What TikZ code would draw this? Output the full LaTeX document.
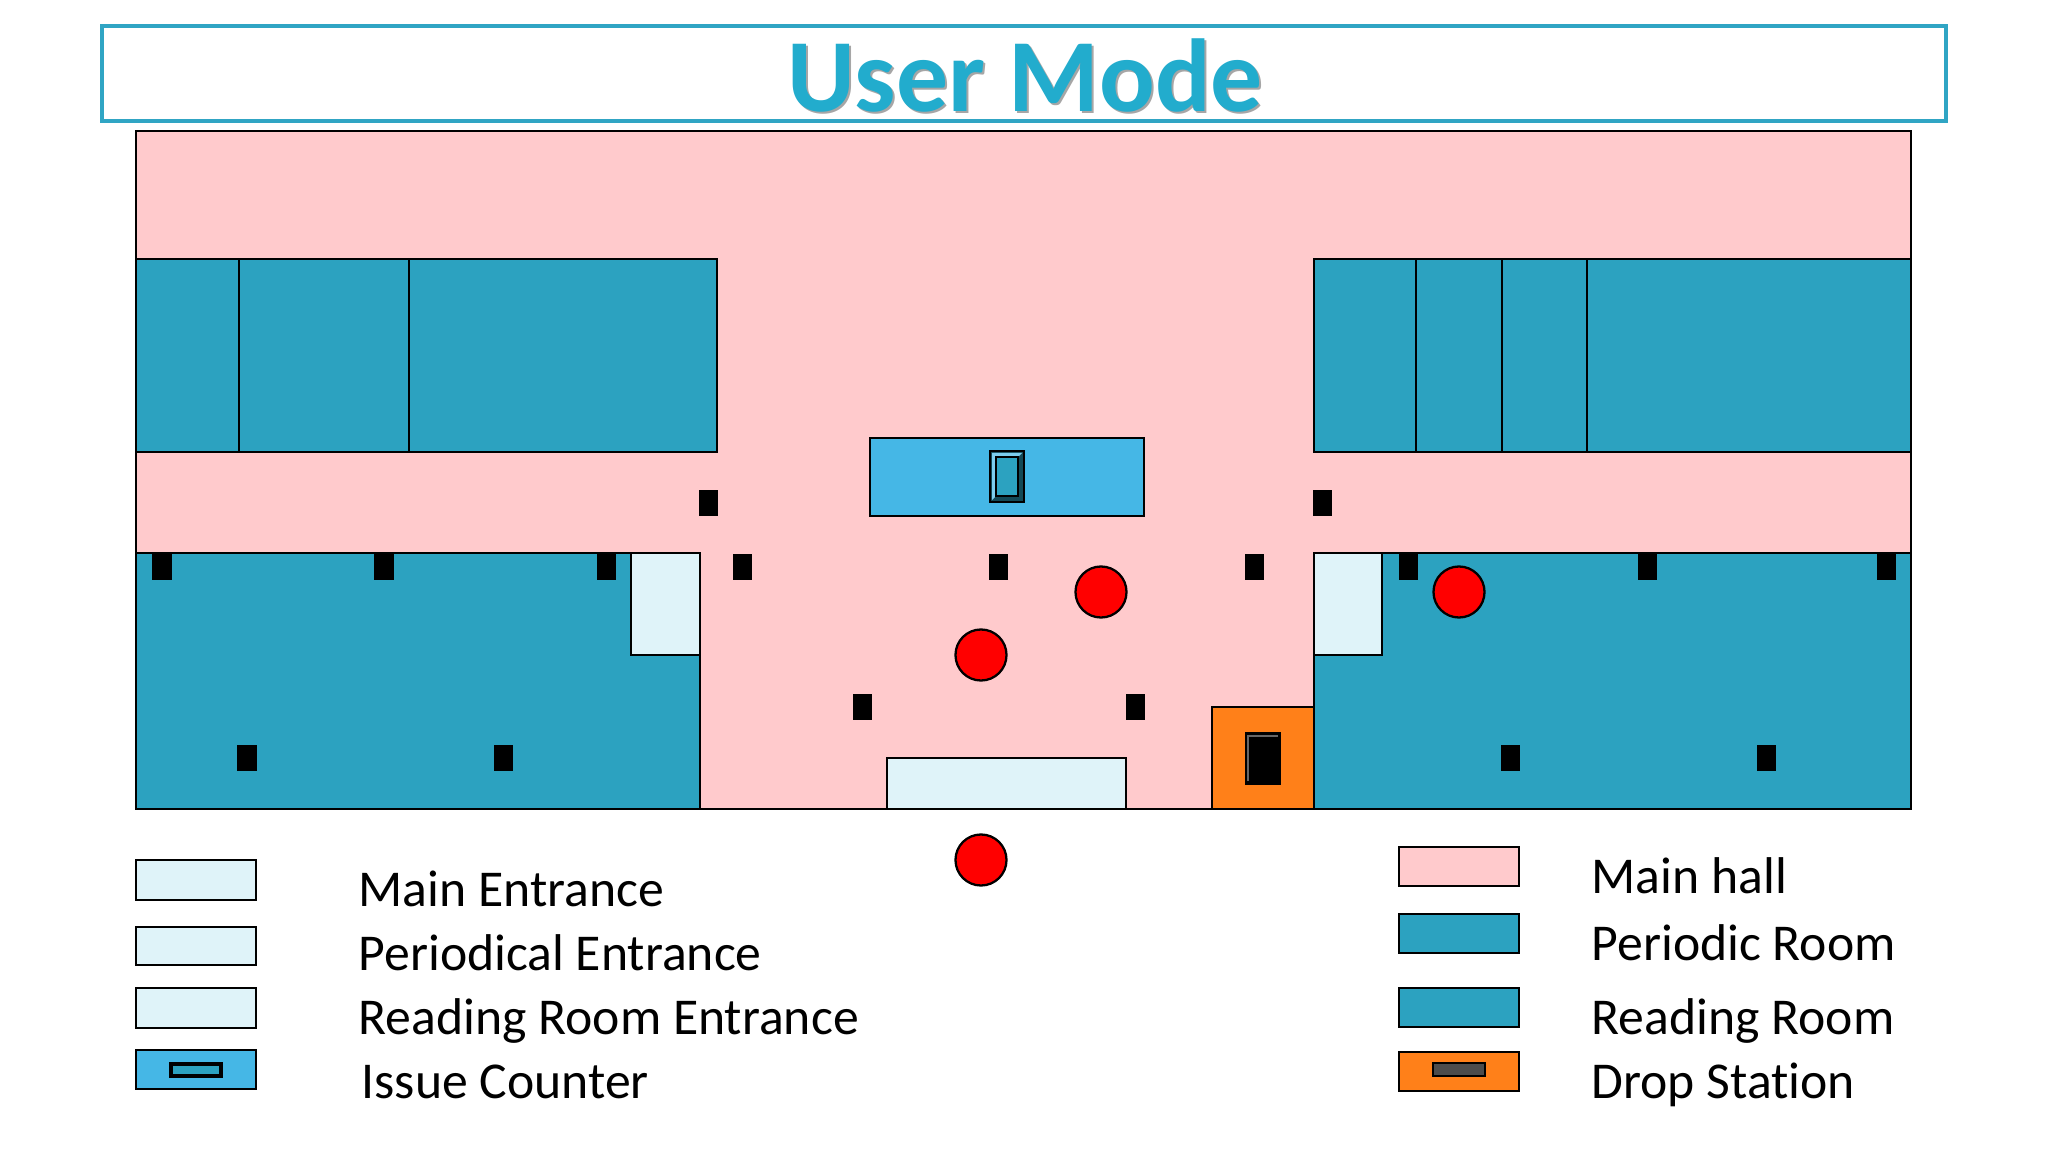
\documentclass[tikz,border=0pt]{standalone}
\usepackage{fontspec}
\setmainfont{Carlito}[Ligatures=NoCommon]

\definecolor{hallpink}{HTML}{FFCACC}
\definecolor{roomteal}{HTML}{2CA2C0}
\definecolor{entrancepale}{HTML}{DFF3F9}
\definecolor{counterblue}{HTML}{45B7E6}
\definecolor{droporange}{HTML}{FF8019}
\definecolor{titleteal}{HTML}{22ACCD}
\definecolor{titleline}{HTML}{30A5C4}

\tikzset{
    wall/.style={draw=black, line width=0.65pt},
    pillar/.style={fill=black, inner sep=0, minimum width=0.19cm, minimum height=0.26cm},
    visitor/.style={circle, draw=black, fill=red, line width=0.65pt, inner sep=0, minimum size=0.51cm},
    legendtext/.style={anchor=base west, inner sep=0, font=\fontsize{14.7pt}{17pt}\selectfont},
    titletext/.style={inner sep=0, font=\fontsize{29.5pt}{32pt}\selectfont\bfseries}
}

\begin{document}
\begin{tikzpicture}[x=0.01cm, y=-0.01cm]
    \useasboundingbox (0,-1) rectangle (2048,1151);

    % Title
    \draw[titleline, line width=1.1pt] (102,25) rectangle (1946,120);
    \node[titletext, text=black!35] (titleshadow) at (1027,76) {User Mode};
    \node[titletext, text=titleteal] (title) at (1025,74) {User Mode};

    % Main hall
    \draw[wall, fill=hallpink] (136,130) rectangle (1911,808);

    % Periodic rooms
    \draw[wall, fill=roomteal] (136,258) rectangle (717,451);
    \draw[wall] (239,258) -- (239,451);
    \draw[wall] (409,258) -- (409,451);
    \draw[wall, fill=roomteal] (1314,258) rectangle (1911,451);
    \draw[wall] (1416,258) -- (1416,451);
    \draw[wall] (1502,258) -- (1502,451);
    \draw[wall] (1587,258) -- (1587,451);

    % Reading rooms
    \draw[wall, fill=roomteal] (136,552) rectangle (700,808);
    \draw[wall, fill=roomteal] (1314,552) rectangle (1911,808);
    \draw[wall, fill=entrancepale] (631,552) rectangle (700,654);
    \draw[wall, fill=entrancepale] (1314,552) rectangle (1382,654);

    % Main entrance
    \draw[wall, fill=entrancepale] (887,757) rectangle (1126,808);

    % Issue counter
    \draw[wall, fill=counterblue] (870,437) rectangle (1144,515);
    \draw[black, line width=0.65pt, fill=roomteal!45!black] (990,450) rectangle (1024,501);
    \fill[counterblue!70!white] (992,452) -- (1022,452) -- (1018,456) -- (996,456) -- (996,495) -- (992,499) -- cycle;
    \draw[black, line width=0.3pt, fill=roomteal] (996,456) rectangle (1018,495);

    % Drop station
    \draw[wall, fill=droporange] (1212,706) rectangle (1314,808);
    \fill[black] (1245,731) rectangle (1281,784);
    \draw[black!60, line width=0.5pt] (1248,780) -- (1248,735) -- (1278,735);

    % Pillars
    \node[pillar] (pillarA) at (708,502) {};
    \node[pillar] (pillarB) at (1322,502) {};
    \node[pillar] (pillarC) at (162,566) {};
    \node[pillar] (pillarD) at (384,566) {};
    \node[pillar] (pillarE) at (606,566) {};
    \node[pillar] (pillarF) at (742,566) {};
    \node[pillar] (pillarG) at (998,566) {};
    \node[pillar] (pillarH) at (1254,566) {};
    \node[pillar] (pillarI) at (1408,566) {};
    \node[pillar] (pillarJ) at (1647,566) {};
    \node[pillar] (pillarK) at (1886,566) {};
    \node[pillar] (pillarL) at (862,706) {};
    \node[pillar] (pillarM) at (1135,706) {};
    \node[pillar] (pillarN) at (247,757) {};
    \node[pillar] (pillarO) at (503,757) {};
    \node[pillar] (pillarP) at (1510,757) {};
    \node[pillar] (pillarQ) at (1766,757) {};

    % Visitors
    \node[visitor] (visitorA) at (1101,591) {};
    \node[visitor] (visitorB) at (981,654) {};
    \node[visitor] (visitorC) at (1459,591) {};
    \node[visitor] (visitorD) at (981,859) {};

    % Legend, left column
    \draw[wall, fill=entrancepale] (136,859) rectangle (256,899);
    \draw[wall, fill=entrancepale] (136,926) rectangle (256,964);
    \draw[wall, fill=entrancepale] (136,987) rectangle (256,1027);
    \draw[wall, fill=counterblue] (136,1049) rectangle (256,1088);
    \draw[black, line width=0.9pt, fill=roomteal] (171,1063) rectangle (221,1075);
    \node[legendtext] (mainentrance) at (358,905) {Main Entrance};
    \node[legendtext] (periodicalentrance) at (358,969) {Periodical Entrance};
    \node[legendtext] (readingentrance) at (358,1033) {Reading Room Entrance};
    \node[legendtext] (issuecounter) at (361,1097) {Issue Counter};

    % Legend, right column
    \draw[wall, fill=hallpink] (1399,846) rectangle (1519,885);
    \draw[wall, fill=roomteal] (1399,913) rectangle (1519,952);
    \draw[wall, fill=roomteal] (1399,987) rectangle (1519,1026);
    \draw[wall, fill=droporange] (1399,1051) rectangle (1519,1090);
    \draw[black, line width=0.65pt, fill=black!70] (1433,1062) rectangle (1485,1075);
    \node[legendtext] (mainhall) at (1591,892) {Main hall};
    \node[legendtext] (periodicroom) at (1591,959) {Periodic Room};
    \node[legendtext] (readingroom) at (1591,1033) {Reading Room};
    \node[legendtext] (dropstation) at (1591,1097) {Drop Station};

\end{tikzpicture}
\end{document}
